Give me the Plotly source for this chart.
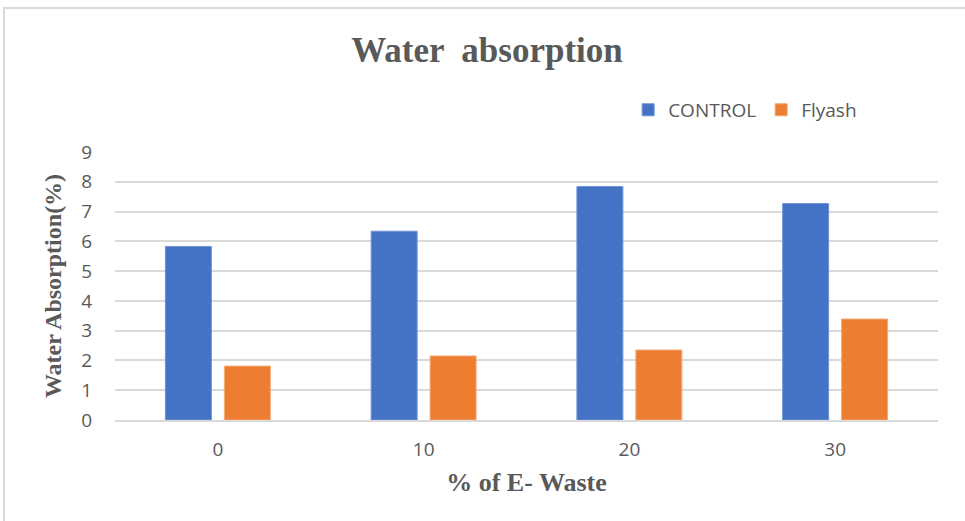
import plotly.graph_objects as go

categories = ["0", "10", "20", "30"]
control = [5.83, 6.34, 7.84, 7.27]
flyash = [1.81, 2.15, 2.35, 3.39]
yticks = [0, 1, 2, 3, 4, 5, 6, 7, 8, 9]

GREY = "#595959"
SERIF = "Liberation Serif, Times New Roman, serif"
SANS = "Open Sans, Liberation Sans, sans-serif"

fig = go.Figure()
fig.add_trace(go.Bar(x=categories, y=control, name="CONTROL",
                     marker=dict(color="#4472C4", line=dict(color="#6f93d6", width=1))))
fig.add_trace(go.Bar(x=categories, y=flyash, name="Flyash",
                     marker=dict(color="#ED7D31", line=dict(color="#f4a877", width=1))))

fig.update_layout(
    width=965, height=521,
    margin=dict(l=115, r=27, t=152, b=101),
    paper_bgcolor="white", plot_bgcolor="white",
    barmode="group", bargap=0.427, bargroupgap=0.22,
    title=dict(text="<b>Water  absorption</b>", x=0.452, xref="paper", xanchor="center",
               y=1 - 50 / 521, yref="container", yanchor="middle",
               font=dict(family=SERIF, size=35, color=GREY)),
    legend=dict(orientation="h", x=0.6235, y=1.157, xanchor="left", yanchor="middle",
                font=dict(family=SANS, size=19, color=GREY), itemwidth=30,
                traceorder="normal", bgcolor="rgba(0,0,0,0)"),
    xaxis=dict(type="category", showgrid=False, showline=True, linecolor="#d9d9d9", linewidth=2,
               ticks="", ticklabelstandoff=11, tickfont=dict(family=SANS, size=19, color=GREY),
               title=dict(text="<b>% of E- Waste</b>", font=dict(family=SERIF, size=26, color=GREY),
                          standoff=12)),
    yaxis=dict(range=[0, 9], tickvals=yticks, showgrid=True, gridcolor="#d9d9d9", gridwidth=1.5,
               zeroline=False, ticks="", ticklabelstandoff=22,
               tickfont=dict(family=SANS, size=19, color=GREY),
               title=dict(text="<b>Water Absorption(%)</b>", font=dict(family=SERIF, size=24, color=GREY),
                          standoff=12)),
    showlegend=True,
)

fig.add_shape(type="rect", xref="paper", yref="paper",
              x0=(4 - 115) / 823, x1=(975 - 115) / 823,
              y0=(420 - 530) / 268, y1=(420 - 8) / 268,
              line=dict(color="#d9d9d9", width=2), fillcolor="rgba(0,0,0,0)", layer="below")

fig.write_html("out.html", config={"displayModeBar": False},
               post_script="document.body.style.margin='0';")
